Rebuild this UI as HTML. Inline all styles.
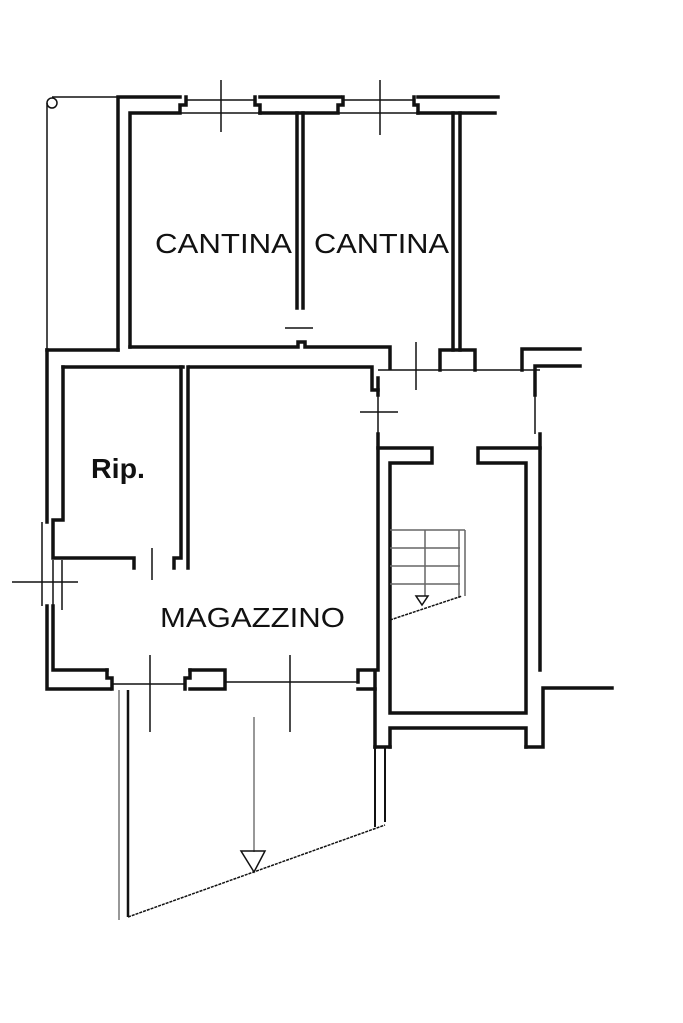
<!DOCTYPE html>
<html><head><meta charset="utf-8"><style>
html,body{margin:0;padding:0;background:#fff;}
svg{display:block}
text{font-family:"Liberation Sans",sans-serif;fill:#111}
</style></head><body>
<svg width="683" height="1023" viewBox="0 0 683 1023" xmlns="http://www.w3.org/2000/svg">
<g fill="none" stroke="#111" stroke-width="3.5" stroke-linecap="square">
<polyline points="118,350 118,97 180,97"/>
<polyline points="260,97 340,97"/>
<polyline points="418,97 498,97"/>
<polyline points="130,347 130,113 180,113 180,105 186,105 186,97"/>
<polyline points="260,113 260,105 255,105 255,97"/>
<polyline points="260,113 338,113 338,105 343,105 343,97"/>
<polyline points="418,113 418,105 414,105 414,97"/>
<polyline points="418,113 495,113"/>
<polyline points="297,113 297,308"/>
<polyline points="303,113 303,308"/>
<polyline points="453,113 453,350"/>
<polyline points="460,113 460,350"/>
<polyline points="440,370 440,350 475,350 475,370"/>
<polyline points="130,347 298,347 298,342 305,342 305,347 390,347 390,368"/>
<polyline points="47,350 118,350"/>
<polyline points="47,350 47,522"/>
<polyline points="63,367 183,367"/>
<polyline points="190,367 372,367 372,390 378,390"/>
<polyline points="63,367 63,520 53,520 53,558 134,558 134,568"/>
<polyline points="47,606 47,689 110,689"/>
<polyline points="53,606 53,670 107,670"/>
<polyline points="181,367 181,558 174,558 174,568"/>
<polyline points="188,367 188,568"/>
<polyline points="107,670 107,678 112,678 112,689"/>
<polyline points="190,670 190,678 185,678 185,689"/>
<polyline points="190,670 225,670 225,689 190,689"/>
<polyline points="358,682 358,670 375,670 375,747"/>
<polyline points="358,689 375,689"/>
<polyline points="378,378 378,395"/>
<polyline points="378,434 378,670"/>
<polyline points="378,448 432,448 432,463 390,463 390,713 526,713 526,463 478,463 478,448 540,448"/>
<polyline points="540,434 540,670"/>
<polyline points="390,747 390,728 526,728 526,747"/>
<polyline points="375,747 390,747"/>
<polyline points="526,747 543,747 543,688 612,688"/>
<polyline points="522,370 522,349 580,349"/>
<polyline points="535,395 535,366 580,366"/>
</g>
<g fill="none" stroke="#111" stroke-width="1.5">
<line x1="47" y1="103" x2="47" y2="350"/>
<line x1="52" y1="97" x2="118" y2="97"/>
<circle cx="52" cy="103" r="5"/>
<line x1="186" y1="100" x2="255" y2="100"/>
<line x1="180" y1="113" x2="260" y2="113"/>
<line x1="343" y1="100" x2="414" y2="100"/>
<line x1="338" y1="113" x2="418" y2="113"/>
<line x1="221" y1="80" x2="221" y2="132"/>
<line x1="380" y1="80" x2="380" y2="135"/>
<line x1="285" y1="328" x2="313" y2="328"/>
<line x1="378" y1="370" x2="540" y2="370"/>
<line x1="378" y1="395" x2="378" y2="434"/>
<line x1="535" y1="395" x2="535" y2="434"/>
<line x1="416" y1="342" x2="416" y2="390"/>
<line x1="360" y1="412" x2="398" y2="412"/>
<line x1="42" y1="522" x2="42" y2="606"/>
<line x1="53" y1="560" x2="53" y2="610"/>
<line x1="62" y1="560" x2="62" y2="610"/>
<line x1="12" y1="582" x2="78" y2="582"/>
<line x1="152" y1="548" x2="152" y2="580"/>
<line x1="150" y1="655" x2="150" y2="732"/>
<line x1="290" y1="655" x2="290" y2="732"/>
<line x1="112" y1="684" x2="185" y2="684"/>
<line x1="225" y1="682" x2="358" y2="682"/>
<line x1="119" y1="690" x2="119" y2="920" stroke="#777"/>
<line x1="128" y1="690" x2="128" y2="917" stroke-width="2.5"/>
<line x1="375" y1="747" x2="375" y2="827" stroke-width="2"/>
<line x1="385" y1="747" x2="385" y2="822" stroke-width="2"/>
<line x1="128" y1="917" x2="385" y2="825" stroke-dasharray="3,1"/>
<line x1="254" y1="717" x2="254" y2="852" stroke="#777"/>
<polygon points="241,851 265,851 254,872"/>
<g stroke="#666">
<line x1="390" y1="530" x2="465" y2="530"/>
<line x1="390" y1="548" x2="460" y2="548"/>
<line x1="390" y1="566" x2="460" y2="566"/>
<line x1="390" y1="584" x2="460" y2="584"/>
<line x1="425" y1="530" x2="425" y2="596"/>
<line x1="459" y1="530" x2="459" y2="598"/>
<line x1="465" y1="530" x2="465" y2="596"/>
</g>
<line x1="390" y1="620" x2="462" y2="596" stroke-dasharray="3,1"/>
<polygon points="416,596 428,596 422,605"/>
</g>
<text x="155" y="253" font-size="28" textLength="137" lengthAdjust="spacingAndGlyphs">CANTINA</text>
<text x="314" y="253" font-size="28" textLength="135" lengthAdjust="spacingAndGlyphs">CANTINA</text>
<text x="91" y="478" font-size="28" font-weight="bold" textLength="54" lengthAdjust="spacingAndGlyphs">Rip.</text>
<text x="160" y="627" font-size="28" textLength="185" lengthAdjust="spacingAndGlyphs">MAGAZZINO</text>
</svg>
</body></html>
